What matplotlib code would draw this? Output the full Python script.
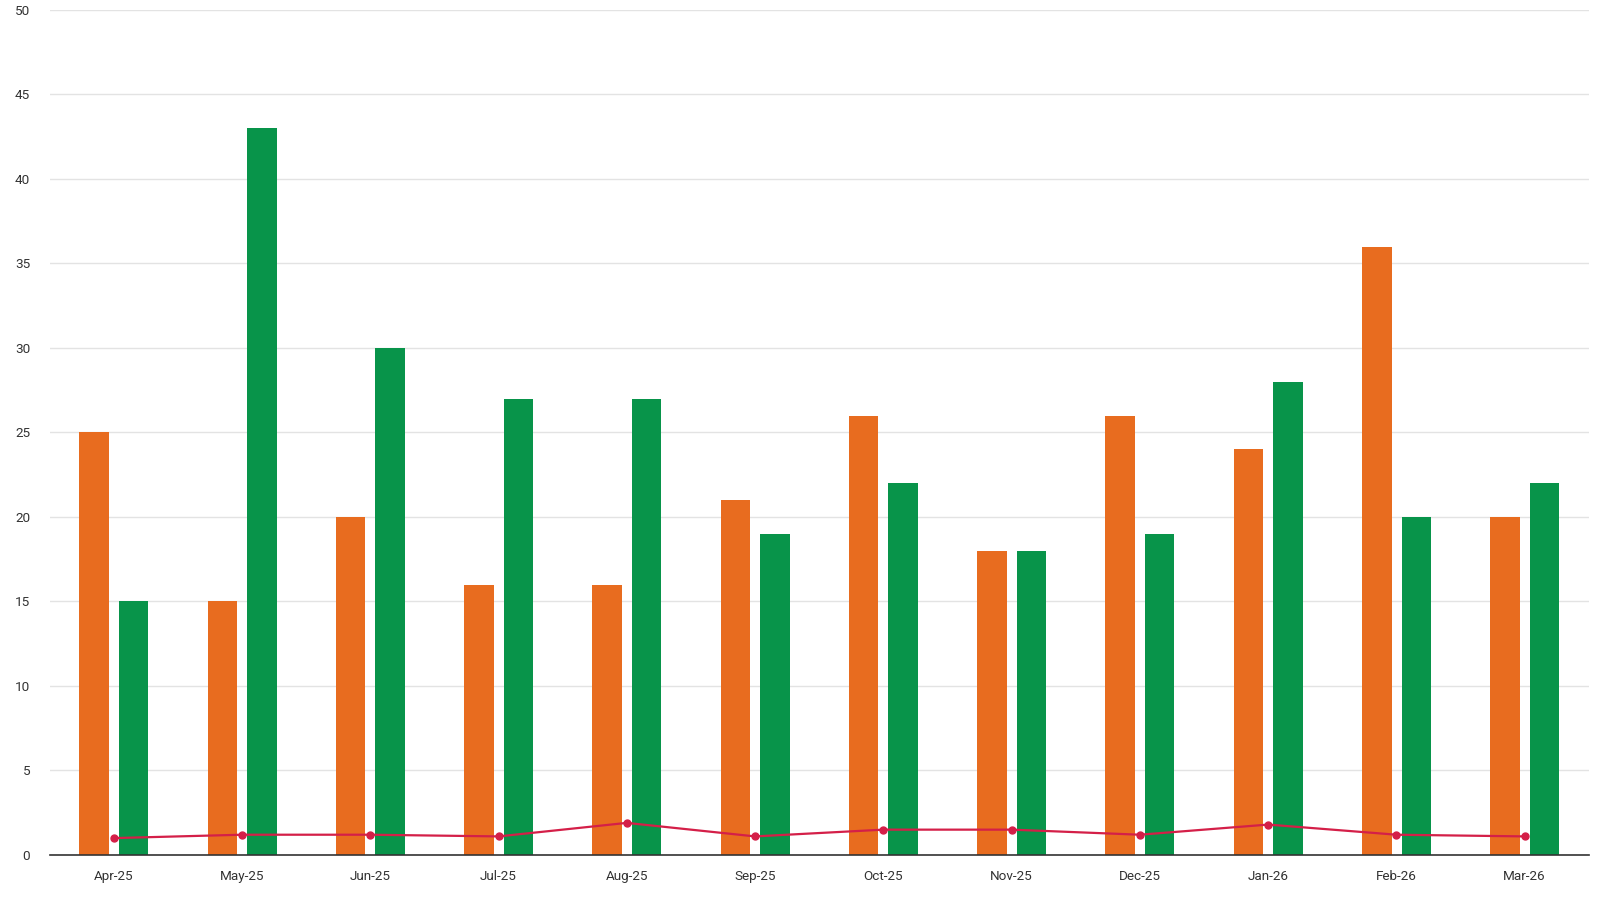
import matplotlib.pyplot as plt
import numpy as np

plt.rcParams['font.family'] = ['Roboto', 'DejaVu Sans']

months = ['Apr-25', 'May-25', 'Jun-25', 'Jul-25', 'Aug-25', 'Sep-25',
          'Oct-25', 'Nov-25', 'Dec-25', 'Jan-26', 'Feb-26', 'Mar-26']
orange_vals = [25, 15, 20, 16, 16, 21, 26, 18, 26, 24, 36, 20]
green_vals = [15, 43, 30, 27, 27, 19, 22, 18, 19, 28, 20, 22]
line_vals = [1.0, 1.2, 1.2, 1.1, 1.9, 1.1, 1.5, 1.5, 1.2, 1.8, 1.2, 1.1]

fig = plt.figure(figsize=(16, 9), dpi=100)
ax = fig.add_axes([0.031, 0.05, 0.962, 0.939])

x = np.arange(len(months))
w = 0.23
ax.bar(x - 0.153, orange_vals, w, color='#E86C1F', zorder=2)
ax.bar(x + 0.155, green_vals, w, color='#08944A', zorder=2)
ax.plot(x, line_vals, color='#D41F48', lw=1.6, marker='o', ms=5, zorder=3)

ax.set_xlim(-0.5, len(months) - 0.5)
ax.set_ylim(0, 50)
ax.set_yticks(range(0, 51, 5))
ax.set_xticks(x)
ax.set_xticklabels(months)
ax.grid(axis='y', color='#e3e3e3', lw=1, zorder=0)
ax.tick_params(length=0, labelsize=9.7, colors='#333333')
ax.tick_params(axis='x', pad=11)
ax.tick_params(axis='y', pad=14)
for s in ['top', 'right', 'left']:
    ax.spines[s].set_visible(False)
ax.spines['bottom'].set_color('#333333')
ax.spines['bottom'].set_linewidth(1.2)
ax.spines['bottom'].set_zorder(4)

plt.savefig('out.png', dpi=100)
